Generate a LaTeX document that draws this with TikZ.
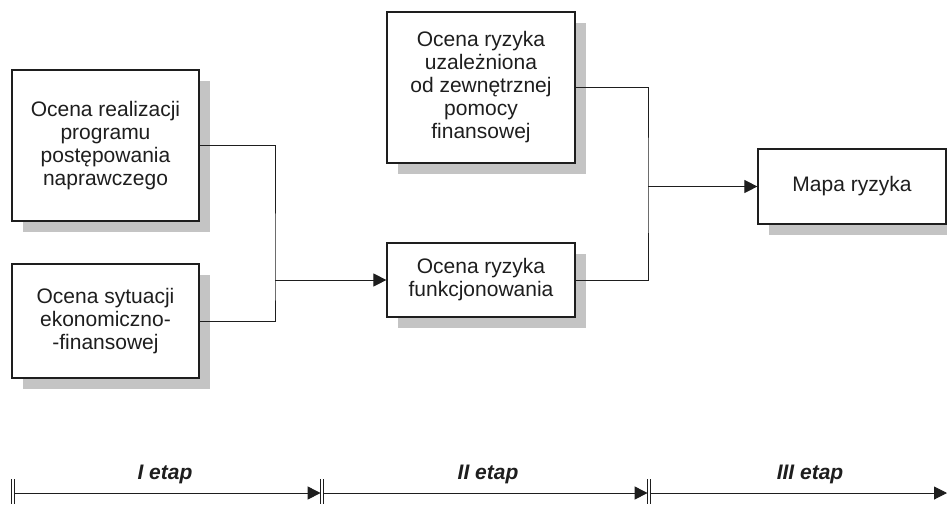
\documentclass[tikz,border=0pt]{standalone}
\usepackage{fontspec}
\setmainfont{Liberation Sans}
\usetikzlibrary{arrows.meta,shadows}
\definecolor{ink}{HTML}{1E1E1E}
\definecolor{shade}{HTML}{C4C4C4}
\begin{document}
\begin{tikzpicture}[x=1pt,y=-1pt,
  box/.style={draw=ink, line width=1.2pt, fill=white, text=ink, align=center,
    inner sep=0pt, font=\fontsize{21}{23}\selectfont,
    drop shadow={shadow xshift=11pt, shadow yshift=-11pt, fill=shade, opacity=1}},
  link/.style={draw=ink, line width=1pt},
  arr/.style={link, -{Triangle[length=13pt,width=13pt]}},
  tick/.style={draw=ink, line width=0.8pt},
  stage/.style={text=ink, font=\fontsize{21}{23}\selectfont\bfseries\itshape, anchor=base, inner sep=0pt}]
\useasboundingbox (0,0) rectangle (947,504);

% process boxes
\node[box, minimum width=187pt, minimum height=151pt] (A) at (105.5,145.5)
  {Ocena realizacji\\programu\\postępowania\\naprawczego};
\node[box, minimum width=187pt, minimum height=114pt] (B) at (105.5,321)
  {Ocena sytuacji\\ekonomiczno-\\-finansowej};
\node[box, minimum width=188pt, minimum height=151pt] (C) at (481,87.5)
  {Ocena ryzyka\\uzależniona\\od zewnętrznej\\pomocy\\finansowej};
\node[box, minimum width=188pt, minimum height=74pt] (D) at (481,280)
  {Ocena ryzyka\\funkcjonowania};
\node[box, minimum width=188pt, minimum height=75pt] (E) at (852,186.5)
  {Mapa ryzyka};

% connectors
\coordinate (j1) at (275,280);
\coordinate (j2) at (648,186.5);
\draw[link] (A.east) -| (j1) |- (B.east);
\draw[arr] (j1) -- (D.west);
\draw[link] (C.east) -| (j2) |- (D.east);
\draw[arr] (j2) -- (E.west);

% stage axis
\coordinate (t0) at (13,493);
\coordinate (t1) at (322,493);
\coordinate (t2) at (649,493);
\coordinate (t3) at (947,493);
\foreach \tk in {t0,t1,t2}{
  \draw[tick] ([xshift=-1.4pt,yshift=14pt]\tk) -- ++(0,25);
  \draw[tick] ([xshift=1.4pt,yshift=14pt]\tk) -- ++(0,25);
}
\draw[arr] ([xshift=1.4pt]t0) -- ([xshift=-1.4pt]t1);
\draw[arr] ([xshift=1.4pt]t1) -- ([xshift=-1.4pt]t2);
\draw[arr] ([xshift=1.4pt]t2) -- (t3);
\node[stage] (s1) at (165,479) {I etap};
\node[stage] (s2) at (488,479) {II etap};
\node[stage] (s3) at (810,479) {III etap};
\end{tikzpicture}
\end{document}
